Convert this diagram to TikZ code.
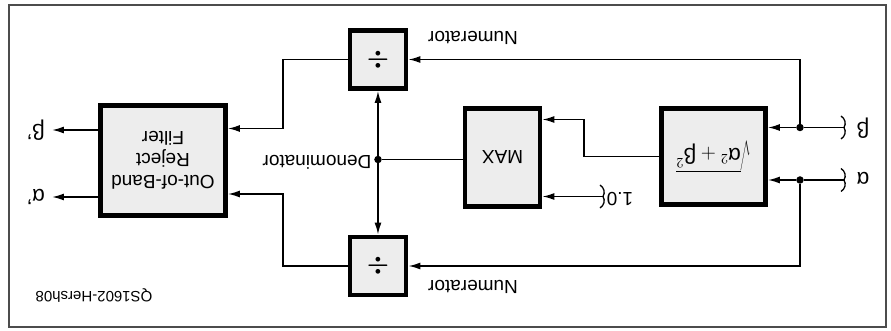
\documentclass[tikz,border=0pt]{standalone}
\usepackage{fontspec}
\setmainfont{Liberation Sans}
\usetikzlibrary{arrows.meta,positioning}

\begin{document}
\begin{tikzpicture}[x=1pt, y=1pt, rotate=180, transform shape,
    blk/.style={draw, line width=4.8pt, fill=black!7, inner sep=0pt, align=center,
      font=\fontsize{19}{22}\selectfont},
    lbl/.style={inner sep=1pt, font=\fontsize{19}{22}\selectfont},
    glbl/.style={inner sep=1pt, font=\fontsize{22}{24}\selectfont},
    outlbl/.style={glbl, inner xsep=7pt},
    dv/.style={font=\fontsize{25}{25}\selectfont\boldmath},
    brk/.pic={\draw[line width=1.3pt] (3,11.5) .. controls (-1,9) and (-2.5,4) .. (0,0)
      .. controls (-2.5,-4) and (-1,-9) .. (3,-11.5);},
    sig/.style={line width=1.6pt},
    arr/.style={sig, -{Latex[length=12pt, width=7pt]}},
    jdot/.style={circle, fill, inner sep=0pt, minimum size=7.5pt}]
    \useasboundingbox (0,0) rectangle (891,331);
    \draw[line width=1.5pt, black!70] (5,5) rectangle (882,327);

    % blocks
    \node[blk, minimum width=104pt, minimum height=96pt, font=\fontsize{22}{24}\selectfont]
      (sq) at (177.5,156.5) {$\sqrt{\mbox{α}^2+\mbox{β}^2}$};
    \node[blk, minimum width=75pt, minimum height=98pt] (mx) at (388.5,157.5) {MAX};
    \node[blk, minimum width=56pt, minimum height=58pt, dv] (divb) at (513,59.5) {$\div$};
    \node[blk, minimum width=56pt, minimum height=58pt, dv] (diva) at (513,266) {$\div$};
    \node[blk, minimum width=125pt, minimum height=110pt] (flt) at (728,160.5)
      {Out-of-Band\\Reject\\Filter};

    % inputs
    \node[glbl] (alpha) at (28,178) {α};
    \node[glbl] (beta) at (28,128) {β};
    \coordinate (abr) at (47,180);
    \coordinate (bbr) at (47,127.5);
    \pic at (abr) {brk};
    \pic at (bbr) {brk};
    \node[jdot] (da) at (91,180) {};
    \node[jdot] (db) at (91,127.5) {};
    \draw[sig] (abr) -- (da);
    \draw[sig] (bbr) -- (db);
    \draw[arr] (da) -- (da -| sq.west);
    \draw[arr] (db) -- (db -| sq.west);

    % numerators
    \draw[arr] (db) |- (divb.west);
    \draw[arr] (da) |- (diva.west);
    \node[lbl] (numb) at (418,38) {Numerator};
    \node[lbl] (numa) at (418,287) {Numerator};

    % max
    \coordinate (mxa) at (307,119.5);
    \draw[arr] (sq.east) -| (mxa) -- (mxa -| mx.west);
    \node[lbl] (one) at (271,199) {1.0};
    \coordinate (obr) at (288,196.5);
    \pic at (obr) {brk};
    \draw[arr] (obr) -- (obr -| mx.west);

    % denominator
    \node[jdot] (den) at (513,159.5) {};
    \draw[sig] (den -| mx.east) -- (den);
    \draw[arr] (den) -- (divb.north);
    \draw[arr] (den) -- (diva.south);
    \node[lbl] (dent) at (574,162) {Denominator};

    % to filter
    \coordinate (fb) at (608,128.5);
    \coordinate (fa) at (608,194);
    \draw[arr] (divb.east) -| (fb) -- (fb -| flt.west);
    \draw[arr] (diva.east) -| (fa) -- (fa -| flt.west);

    % outputs
    \node[outlbl] (bo) at (855,130) {β'};
    \node[outlbl] (ao) at (855,197) {α'};
    \draw[arr] (flt.east |- bo) -- (bo.west);
    \draw[arr] (flt.east |- ao) -- (ao.west);

    \node[lbl, font=\fontsize{15}{18}\selectfont] (fig) at (797,296) {QS1602-Hersh08};
\end{tikzpicture}
\end{document}
